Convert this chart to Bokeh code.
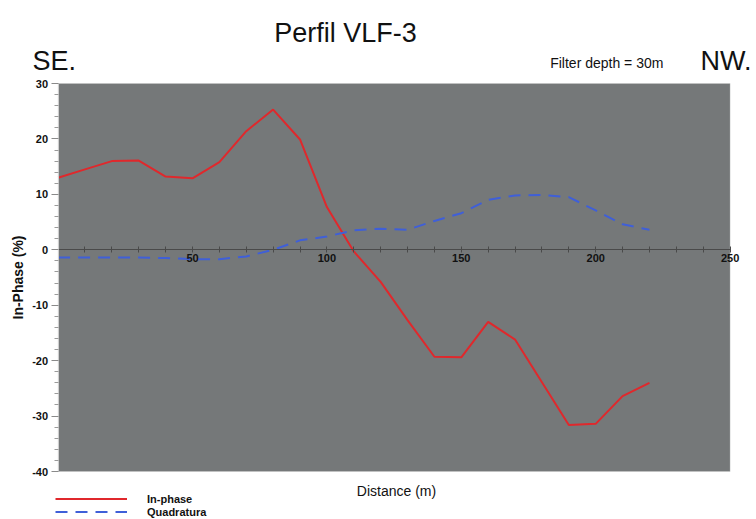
import math
from bokeh.plotting import figure
from bokeh.models import (Label, Legend, LegendItem, FixedTicker, Range1d,
                          BoxAnnotation)
from bokeh.embed import file_html
from bokeh.resources import INLINE

# ---- data ----
distance = [0, 10, 20, 30, 40, 50, 60, 70, 80, 90, 100, 110, 120, 130, 140,
            150, 160, 170, 180, 190, 200, 210, 220]
in_phase = [13.0, 14.5, 16.0, 16.1, 13.2, 12.9, 15.8, 21.4, 25.3, 19.9, 7.7,
            -0.3, -5.8, -12.7, -19.3, -19.4, -13.0, -16.2, -23.9, -31.6,
            -31.4, -26.4, -24.0]
quadratura = [-1.4, -1.4, -1.4, -1.4, -1.5, -1.7, -1.7, -1.2, 0.0, 1.7, 2.4,
              3.5, 3.8, 3.6, 5.2, 6.6, 9.0, 9.8, 9.9, 9.5, 7.1, 4.6, 3.6]
x_ticks = [50, 100, 150, 200, 250]
x_minor = [v for v in range(10, 250, 10) if v % 50 != 0]
y_ticks = [-40, -30, -20, -10, 0, 10, 20, 30]
y_minor = [v for v in range(-40, 31, 2) if v % 10 != 0]
X_MIN, X_MAX = 0, 250
Y_MIN, Y_MAX = -40, 30

FONT = "Liberation Sans"

# canvas geometry (pixels)
W, H = 756, 519
PL, PR = 57.6, 729.6   # plot area left/right
PT, PB = 83.0, 471.0   # plot area top/bottom
sx = (PR - PL) / (X_MAX - X_MIN)
sy = (PB - PT) / (Y_MAX - Y_MIN)


def dx(px):
    return X_MIN + (px - PL) / sx


def dy(py):
    return Y_MAX - (py - PT) / sy


p = figure(width=W, height=H, output_backend="svg", toolbar_location=None,
           x_range=Range1d(dx(0), dx(W)), y_range=Range1d(dy(H), dy(0)),
           min_border=0, min_border_left=0, min_border_right=0,
           min_border_top=0, min_border_bottom=0)
p.background_fill_color = "white"
p.border_fill_color = "white"
p.outline_line_color = None
p.xgrid.visible = False
p.ygrid.visible = False

# plot area
p.add_layout(BoxAnnotation(left=X_MIN, right=X_MAX, bottom=Y_MIN, top=Y_MAX,
                           fill_color="#757879", fill_alpha=1.0,
                           line_color="#cfcfcf", line_width=1,
                           level="underlay"))

# center x axis at y = 0
xa = p.xaxis[0]
xa.fixed_location = 0
xa.bounds = (X_MIN, X_MAX)
xa.ticker = FixedTicker(ticks=x_ticks, minor_ticks=x_minor)
xa.major_label_overrides = {v: str(v) for v in x_ticks}
xa.axis_line_color = "#4a4a4a"
xa.major_tick_line_color = "#4a4a4a"
xa.minor_tick_line_color = "#4a4a4a"
xa.major_tick_in = 3
xa.major_tick_out = 3
xa.minor_tick_in = 3
xa.minor_tick_out = 3
xa.major_label_standoff = 1
xa.major_label_text_font = FONT
xa.major_label_text_font_style = "bold"
xa.major_label_text_font_size = "11px"
xa.major_label_text_color = "#111111"

ya = p.yaxis[0]
ya.fixed_location = X_MIN
ya.bounds = (Y_MIN, Y_MAX)
ya.ticker = FixedTicker(ticks=y_ticks, minor_ticks=y_minor)
ya.major_label_overrides = {v: str(v) for v in y_ticks}
ya.axis_line_color = "#cfcfcf"
ya.major_tick_line_color = "#8a8a8a"
ya.minor_tick_line_color = "#9a9a9a"
ya.major_tick_in = 0
ya.major_tick_out = 7
ya.minor_tick_in = 0
ya.minor_tick_out = 4
ya.major_label_standoff = 3
ya.major_label_text_font = FONT
ya.major_label_text_font_style = "bold"
ya.major_label_text_font_size = "11px"
ya.major_label_text_color = "#111111"
ya.axis_label = "In-Phase (%)"
ya.axis_label_standoff = 4
ya.axis_label_text_font = FONT
ya.axis_label_text_font_style = "bold"
ya.axis_label_text_font_size = "14px"
ya.axis_label_text_color = "#111111"

r1 = p.line(distance, in_phase, line_color="#e0282c", line_width=2)
r2 = p.line(distance, quadratura, line_color="#3f5fd8", line_width=2,
            line_dash="12 8")

legend = Legend(items=[LegendItem(label="In-phase", renderers=[r1]),
                       LegendItem(label="Quadratura", renderers=[r2])],
                location=(55, 1), orientation="vertical",
                glyph_width=72, glyph_height=13, label_height=13,
                label_standoff=20, spacing=0, padding=0, margin=0,
                border_line_color=None, background_fill_alpha=0,
                label_text_font=FONT, label_text_font_style="bold",
                label_text_font_size="11px", label_text_color="#111111")
p.add_layout(legend, "center")

# texts
p.add_layout(Label(x=dx(345), y=dy(32), text="Perfil VLF-3", text_font=FONT,
                   text_font_size="27px", text_align="center",
                   text_baseline="alphabetic", text_color="#111111"))
p.add_layout(Label(x=dx(32), y=dy(60), text="SE.", text_font=FONT,
                   text_font_size="27px", text_align="left",
                   text_baseline="alphabetic", text_color="#111111"))
p.add_layout(Label(x=dx(700), y=dy(60), text="NW.", text_font=FONT,
                   text_font_size="27px", text_align="left",
                   text_baseline="alphabetic", text_color="#111111"))
p.add_layout(Label(x=dx(549.7), y=dy(62), text="Filter depth = 30m",
                   text_font=FONT, text_font_size="14px", text_align="left",
                   text_baseline="alphabetic", text_color="#111111"))
p.add_layout(Label(x=dx(396), y=dy(490), text="Distance (m)", text_font=FONT,
                   text_font_size="14px", text_align="center",
                   text_baseline="alphabetic", text_color="#111111"))

open("out.html", "w").write(file_html(p, INLINE))
